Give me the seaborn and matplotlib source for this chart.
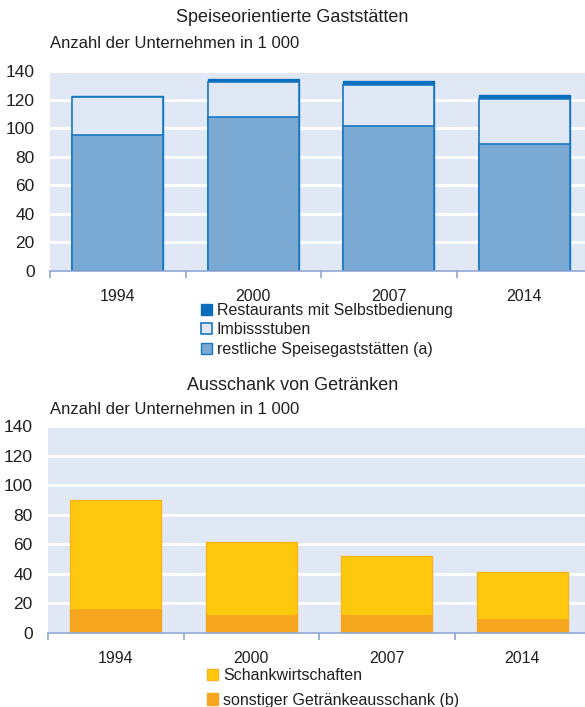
import matplotlib
matplotlib.use("Agg")
import matplotlib.pyplot as plt
import matplotlib.patches as mpatches
import numpy as np
import pandas as pd
import seaborn as sns

years = ["1994", "2000", "2007", "2014"]

# Speiseorientierte Gaststätten (1 000 Unternehmen)
restliche = [95, 108, 101.5, 88.7]
imbiss = [26.6, 24.3, 28.7, 31.7]
selbstbedienung = [1.1, 2.0, 2.5, 3.0]

# Ausschank von Getränken (1 000 Unternehmen)
sonstiger = [16.5, 12, 12, 9.5]
schank = [73.5, 49.3, 39.9, 31.5]

BG = "#E1E8F5"
TXT = "#231F20"
AXIS = "#8EA6D6"

sns.set_theme(style="white")
plt.rcParams["font.family"] = ["Liberation Sans", "DejaVu Sans"]
plt.rcParams["font.size"] = 11


def style_axes(ax, left_px, top_px, bottom_px):
    W, H = 585, 707
    right_px = left_px + 4 * 135.5
    ax.set_position([left_px / W, 1 - bottom_px / H,
                     (right_px - left_px) / W, (bottom_px - top_px) / H])
    ax.set_facecolor(BG)
    ax.set_ylim(0, 140)
    ax.set_xlim(-0.5, 3.5)
    ax.set_yticks(range(0, 141, 20))
    ax.yaxis.grid(True, color="white", linewidth=2.2)
    ax.set_axisbelow(True)
    for s in ["top", "right", "left"]:
        ax.spines[s].set_visible(False)
    ax.spines["bottom"].set_color(AXIS)
    ax.spines["bottom"].set_linewidth(1.2)
    ax.set_xticks([-0.5, 0.5, 1.5, 2.5, 3.5])
    ax.set_xticklabels([])
    ax.set_xticks(range(4), minor=True)
    ax.set_xticklabels(years, minor=True)
    ax.tick_params(axis="x", which="major", length=5, width=1.2,
                   color=AXIS, direction="out", bottom=True)
    ax.tick_params(axis="x", which="minor", length=0, pad=13, labelsize=11.5,
                   labelcolor=TXT)
    ax.tick_params(axis="y", length=0, pad=11, labelsize=12.5, labelcolor=TXT)
    ax.set_xlabel("")
    ax.set_ylabel("")


fig = plt.figure(figsize=(5.85, 7.07), dpi=100)

# --- top chart
ax1 = fig.add_axes([0, 0, 1, 1])
df1 = pd.DataFrame({"Jahr": years,
                    "rest": restliche,
                    "imb": np.add(restliche, imbiss),
                    "sb": np.add(np.add(restliche, imbiss), selbstbedienung)})
sns.barplot(data=df1, x="Jahr", y="sb", color="#0A6EBD", saturation=1,
            width=0.67, edgecolor="#0A6EBD", linewidth=1, ax=ax1)
sns.barplot(data=df1, x="Jahr", y="imb", color=BG, saturation=1,
            width=0.67, edgecolor="#1A78C2", linewidth=1.2, ax=ax1)
sns.barplot(data=df1, x="Jahr", y="rest", color="#7AAAD3", saturation=1,
            width=0.67, edgecolor="#1A78C2", linewidth=1.2, ax=ax1)
style_axes(ax1, 50, 71, 271)

fig.text(0.5, 1 - 18 / 707, "Speiseorientierte Gaststätten", ha="center",
         va="center", fontsize=13, color=TXT)
fig.text(50 / 585, 1 - 44 / 707, "Anzahl der Unternehmen in 1 000", ha="left",
         va="center", fontsize=12, color=TXT)

h1 = [mpatches.Patch(facecolor="#0A6EBD", edgecolor="#0A6EBD"),
      mpatches.Patch(facecolor=BG, edgecolor="#1A78C2", linewidth=1.2),
      mpatches.Patch(facecolor="#7AAAD3", edgecolor="#1A78C2")]
fig.legend(h1, ["Restaurants mit Selbstbedienung", "Imbissstuben",
                "restliche Speisegaststätten (a)"],
           loc="upper left", bbox_to_anchor=(201 / 585, 1 - 303 / 707),
           frameon=False, fontsize=11.5, handlelength=0.7, handleheight=0.7,
           handletextpad=0.3, labelspacing=0.28, borderpad=0, borderaxespad=0,
           labelcolor=TXT)

# --- bottom chart
ax2 = fig.add_axes([0, 0, 1, 0.5])
df2 = pd.DataFrame({"Jahr": years,
                    "sonst": sonstiger,
                    "ges": np.add(sonstiger, schank)})
sns.barplot(data=df2, x="Jahr", y="ges", color="#FEC80E", saturation=1,
            width=0.67, edgecolor="#F9B41A", linewidth=1, ax=ax2)
sns.barplot(data=df2, x="Jahr", y="sonst", color="#F6A61E", saturation=1,
            width=0.67, edgecolor="#F6A61E", linewidth=0.5, ax=ax2)
style_axes(ax2, 48, 426, 633)

fig.text(0.5, 1 - 385 / 707, "Ausschank von Getränken", ha="center",
         va="center", fontsize=13, color=TXT)
fig.text(50 / 585, 1 - 410 / 707, "Anzahl der Unternehmen in 1 000",
         ha="left", va="center", fontsize=12, color=TXT)

h2 = [mpatches.Patch(facecolor="#FEC80E", edgecolor="#F9B41A"),
      mpatches.Patch(facecolor="#F6A61E", edgecolor="#F6A61E")]
fig.legend(h2, ["Schankwirtschaften", "sonstiger Getränkeausschank (b)"],
           loc="upper left", bbox_to_anchor=(207 / 585, 1 - 668 / 707),
           frameon=False, fontsize=11.5, handlelength=0.7, handleheight=0.7,
           handletextpad=0.3, labelspacing=0.6, borderpad=0, borderaxespad=0,
           labelcolor=TXT)

fig.savefig("out.png", dpi=100)
